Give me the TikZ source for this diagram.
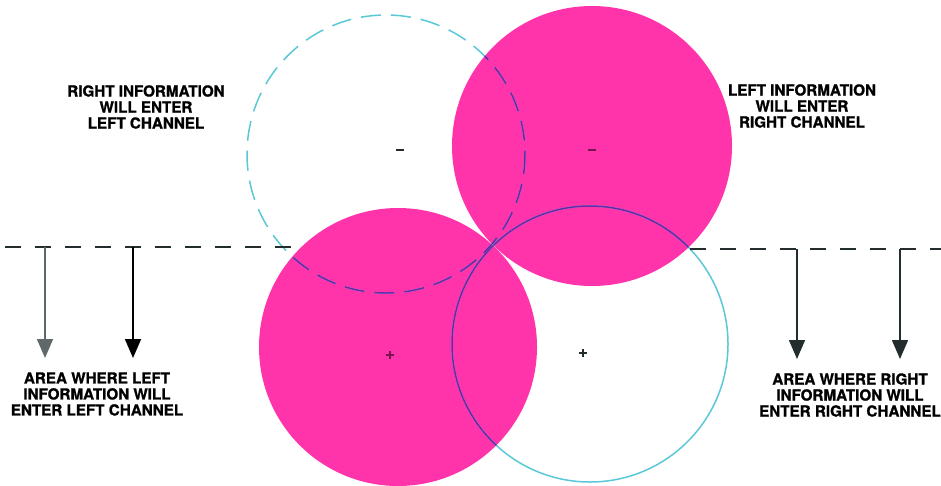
\documentclass[tikz,border=0pt]{standalone}
\usepackage{fontspec}
\setmainfont{TeX Gyre Heros}
\newfontfamily\lblfont{TeX Gyre Heros}[BoldFeatures={FakeBold=1.2}]
\usetikzlibrary{arrows.meta}
\definecolor{pinkfill}{RGB}{255,51,170}
\definecolor{cyanline}{RGB}{90,200,215}
\definecolor{purpleline}{RGB}{105,40,170}
\definecolor{darkline}{RGB}{35,45,45}
\definecolor{grayarrow}{RGB}{95,105,105}
\definecolor{markred}{RGB}{120,20,80}
\tikzset{
  lbl/.style={align=center,font=\lblfont\fontsize{15.2}{16}\selectfont\bfseries,text=black,inner sep=0pt},
  dashring/.style={draw=cyanline,line width=1.5pt,dash pattern=on 20pt off 10pt},
  solidring/.style={draw=cyanline,line width=1.5pt},
  baseline/.style={draw=darkline,line width=2pt,dash pattern=on 16pt off 14pt},
  downarrow/.style={line width=1.6pt,-{Triangle[width=16pt,length=19pt]}}
}
\begin{document}
\begin{tikzpicture}[x=1pt,y=-1pt]
\useasboundingbox (0,0) rectangle (941,485);
% centres
\coordinate (cTL) at (386,154);
\coordinate (cTR) at (592,146);
\coordinate (cBL) at (398,347);
\coordinate (cBR) at (590,344);
% pink discs
\fill[pinkfill] (cTR) circle (140);
\fill[pinkfill] (cBL) circle (139);
% cyan rings
\draw[dashring] (cTL) circle (139);
\draw[solidring] (cBR) circle (138);
% purple where rings cross pink
\begin{scope}
  \clip (cTR) circle (140) (cBL) circle (139);
  \draw[dashring,draw=purpleline] (cTL) circle (139);
  \draw[solidring,draw=purpleline] (cBR) circle (138);
\end{scope}
% centre marks
\draw[line width=1.5pt,darkline] (396,150) -- (404,150);
\draw[line width=1.5pt,markred] (588,150) -- (596,150);
\draw[line width=1.2pt,markred] (386,355) -- (394,355) (390,351) -- (390,359);
\draw[line width=1.2pt,darkline] (579,353) -- (587,353) (583,349) -- (583,357);
% dashed base lines
\coordinate (Ls) at (5,247);
\coordinate (Le) at (292,247);
\coordinate (Rs) at (690,249);
\coordinate (Re) at (941,249);
\draw[baseline] (Ls) -- (Le);
\draw[baseline] (Rs) -- (Re);
% arrows
\coordinate (a1s) at (45,247);  \coordinate (a1e) at (45,358);
\coordinate (a2s) at (133,247); \coordinate (a2e) at (133,358);
\coordinate (a3s) at (797,249); \coordinate (a3e) at (797,359);
\coordinate (a4s) at (900,249); \coordinate (a4e) at (900,359);
\draw[downarrow,grayarrow] (a1s) -- (a1e);
\draw[downarrow,black] (a2s) -- (a2e);
\draw[downarrow,darkline] (a3s) -- (a3e);
\draw[downarrow,darkline] (a4s) -- (a4e);
% labels
\node[lbl] (tl) at (146,107) {RIGHT INFORMATION\\WILL ENTER\\LEFT CHANNEL};
\node[lbl] (tr) at (802,106) {LEFT INFORMATION\\WILL ENTER\\RIGHT CHANNEL};
\node[lbl] (bl) at (97,394) {AREA WHERE LEFT\\INFORMATION WILL\\ENTER LEFT CHANNEL};
\node[lbl] (br) at (850,395) {AREA WHERE RIGHT\\INFORMATION WILL\\ENTER RIGHT CHANNEL};
\end{tikzpicture}
\end{document}
